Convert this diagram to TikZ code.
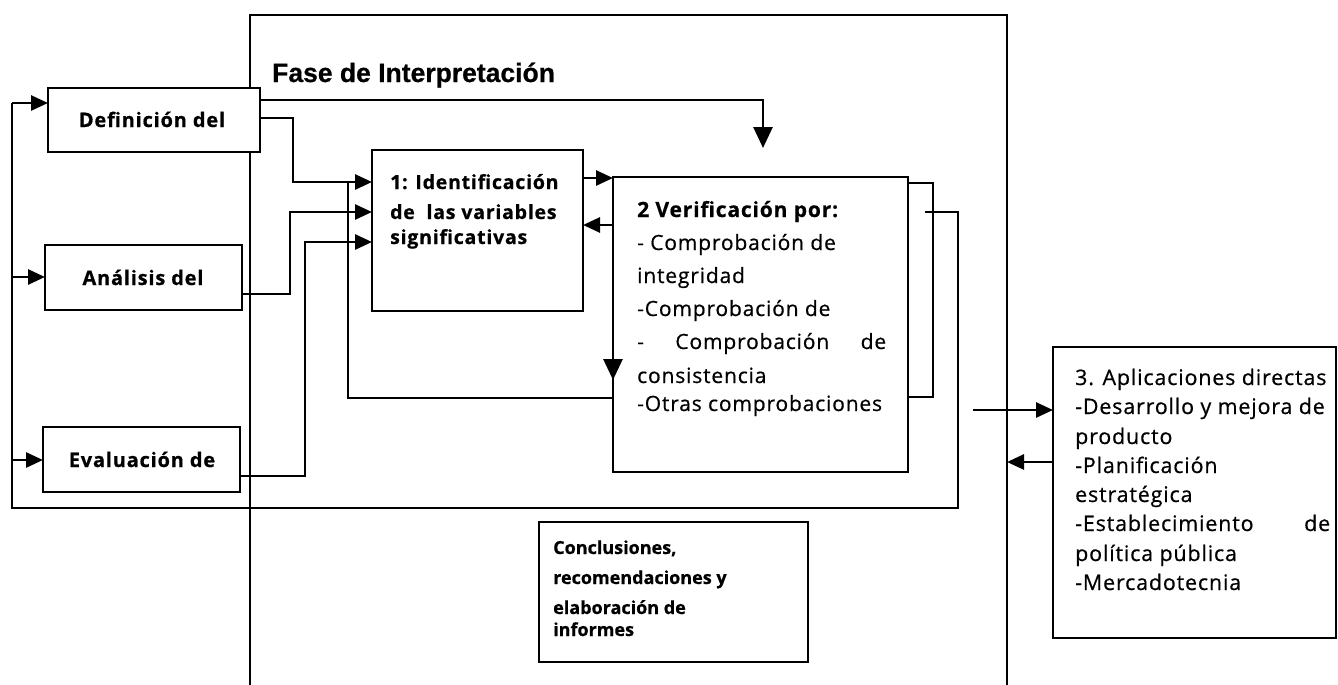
\documentclass[tikz,border=0pt]{standalone}
\usepackage{fontspec}
\setmainfont{Open Sans}
\newfontfamily\bodyfont[LetterSpace=4,FakeBold=0.6]{Open Sans}
\newfontfamily\plainfont[FakeBold=0.6]{Open Sans}
\newfontfamily\titlefont[FakeBold=0.6]{Liberation Sans}
\usetikzlibrary{arrows.meta}
\tikzset{
  box/.style={draw, line width=2.8pt, fill=white, inner sep=0pt, outer sep=0pt, anchor=north west},
  conn/.style={line width=2.8pt},
  arr/.style={conn, -{Triangle[length=17pt,width=15pt]}},
  bigarr/.style={conn, -{Triangle[length=21pt,width=19pt]}},
  txt/.style={anchor=base west, inner sep=0pt},
  lbl/.style={anchor=base, inner sep=0pt, font=\bodyfont\bfseries\fontsize{20}{24}\selectfont},
  vfont/.style={font=\bodyfont\fontsize{21}{25}\selectfont},
  afont/.style={font=\bodyfont\fontsize{21.4}{25}\selectfont},
  ifont/.style={font=\bodyfont\bfseries\fontsize{19.5}{24}\selectfont},
  cfont/.style={font=\plainfont\bfseries\fontsize{18}{22}\selectfont},
}
\begin{document}
\begin{tikzpicture}[x=1pt,y=-1pt]
\useasboundingbox (0,0) rectangle (1338,685);
\fill[white] (0,0) rectangle (1338,685);

% outer frame (open at the bottom)
\draw[conn] (250,685) -- (250,15) -- (1007,15) -- (1007,685);

% boxes
\node[box, minimum width=212pt, minimum height=64pt] (def) at (48,88) {};
\node[box, minimum width=197pt, minimum height=65pt] (ana) at (45,245) {};
\node[box, minimum width=197pt, minimum height=65pt] (eva) at (43,427) {};
\node[box, minimum width=211pt, minimum height=161pt] (b1) at (372,150) {};
\node[box, minimum width=295pt, minimum height=295pt] (b2) at (613,177) {};
\node[box, minimum width=283pt, minimum height=291pt] (app) at (1053,347) {};
\node[box, minimum width=269pt, minimum height=140pt] (conc) at (539,522) {};

% title
\node[anchor=base west, inner sep=0pt, font=\titlefont\bfseries\fontsize{26.5}{30}\selectfont] (title) at (272,82) {Fase de Interpretación};

% labels of left boxes
\node[lbl] (defl) at (152,127) {Definición del};
\node[lbl] (anal) at (143,285) {Análisis del};
\node[lbl] (eval) at (142,467) {Evaluación de};

% box 1 text
\node[txt, ifont] (b1a) at (390,189) {1: Identificación};
\node[txt, ifont] (b1b) at (390,219) {de\ \ las variables};
\node[txt, ifont] (b1c) at (390,244) {significativas};

% box 2 text
\node[txt, font=\bodyfont\bfseries\fontsize{21}{25}\selectfont] (v1) at (637,217) {2 Verificación por:};
\node[txt, vfont] (v2) at (637,250) {- Comprobación de};
\node[txt, vfont] (v3) at (637,283) {integridad};
\node[txt, vfont] (v4) at (637,316) {-Comprobación de};
\node[txt, vfont] (v5) at (637,349) {\hbox to 249pt{-\hfill Comprobación\hfill de}};
\node[txt, vfont] (v6) at (637,383) {consistencia};
\node[txt, vfont] (v7) at (637,411) {-Otras comprobaciones};

% box 3 text
\node[txt, afont] (a1) at (1075,385) {3. Aplicaciones directas};
\node[txt, afont] (a2) at (1075,414) {-Desarrollo y mejora de};
\node[txt, afont] (a3) at (1075,444) {producto};
\node[txt, afont] (a4) at (1075,473) {-Planificación};
\node[txt, afont] (a5) at (1075,502) {estratégica};
\node[txt, afont] (a6) at (1075,531) {\hbox to 255pt{-Establecimiento\hfill de}};
\node[txt, afont] (a7) at (1075,561) {política pública};
\node[txt, afont] (a8) at (1075,590) {-Mercadotecnia};

% conclusions text
\node[txt, cfont] (c1) at (553,554) {Conclusiones,};
\node[txt, cfont] (c2) at (553,584) {recomendaciones y};
\node[txt, cfont] (c3) at (553,614) {elaboración de};
\node[txt, cfont] (c4) at (553,636) {informes};

% free ends
\coordinate (downend) at (763,148);
\coordinate (loopstart) at (925,212);
\coordinate (rightstart) at (973,410);

% connectors
\draw[bigarr] (def.east|-0,100) -- (763,100) -- (downend);
\draw[arr] (def.east|-0,118) -- (293,118) -- (293,182) -- (b1.west|-0,182);
\draw[arr] (ana.east|-0,294) -- (290,294) -- (290,212) -- (b1.west|-0,212);
\draw[arr] (eva.east|-0,476) -- (305,476) -- (305,242) -- (b1.west|-0,242);
\draw[arr] (b1.east|-0,178) -- (b2.west|-0,178);
\draw[arr] (b2.west|-0,225) -- (b1.east|-0,225);
\draw[bigarr] (b2.west|-0,300) -- (b2.west|-0,380);
\draw[conn] (b2.west|-0,378) -- (b2.west|-0,398) -- (348,398) -- (348,182);
\draw[conn] (b2.east|-0,183) -- (933,183) -- (933,397) -- (b2.east|-0,397);
\draw[conn] (loopstart) -- (958,212) -- (958,508) -- (12,508) -- (12,103);
\draw[arr] (12,103) -- (def.west|-0,103);
\draw[arr] (12,277) -- (ana.west|-0,277);
\draw[arr] (12,460) -- (eva.west|-0,460);
\draw[arr] (rightstart) -- (app.west|-0,410);
\draw[arr] (app.west|-0,462) -- (1007,462);
\end{tikzpicture}
\end{document}
